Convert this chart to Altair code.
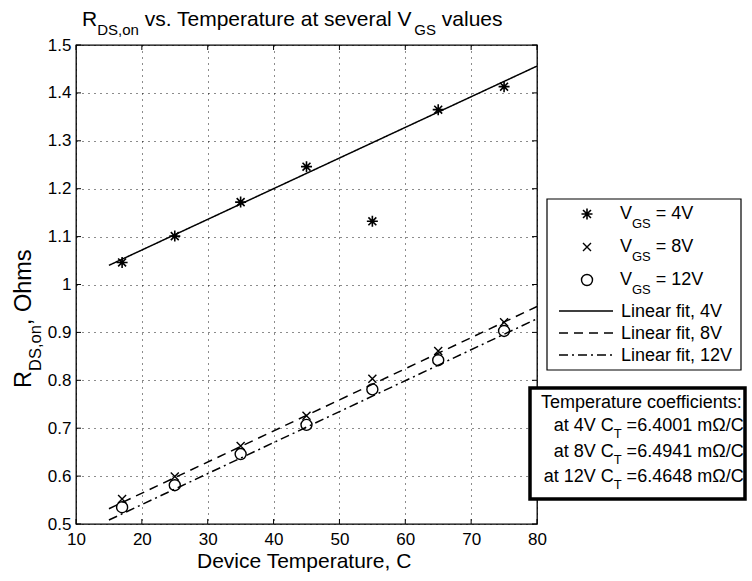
import altair as alt
import pandas as pd

# ---- measured data -------------------------------------------------------
temps = [17, 25, 35, 45, 55, 65, 75]              # device temperature, C
r_4v = [1.046, 1.101, 1.172, 1.246, 1.132, 1.365, 1.413]
r_8v = [0.552, 0.599, 0.663, 0.726, 0.803, 0.861, 0.921]
r_12v = [0.535, 0.581, 0.646, 0.707, 0.781, 0.842, 0.903]

# linear fits R = a + b*T (b in Ohm/C)
fit_names = ["4V", "8V", "12V"]
fit_slopes = [0.0064001, 0.0064941, 0.0064648]
fit_intercepts = [0.944, 0.4345, 0.4113]
fit_span = [15, 80]
coef_labels = ["6.4001", "6.4941", "6.4648"]

x_ticks = [10, 20, 30, 40, 50, 60, 70, 80]
y_ticks = [0.5, 0.6, 0.7, 0.8, 0.9, 1.0, 1.1, 1.2, 1.3, 1.4, 1.5]

# ---- layout ---------------------------------------------------------------
FONT = "Liberation Sans"
W, H = 461, 479          # plot area
OX, OY = 76, 45          # plot origin on the page
PAGE_W, PAGE_H = 752, 581

# Arial / Liberation Sans advance widths (per 1000 em)
ADV = {" ": 278, ".": 278, ",": 278, ":": 278, "=": 584, "/": 278,
       "a": 556, "c": 500, "e": 556, "f": 278, "h": 556, "i": 222, "l": 222,
       "m": 833, "n": 556, "o": 556, "p": 556, "r": 333, "s": 500, "t": 278,
       "u": 556, "v": 500, "C": 722, "D": 722, "G": 778, "L": 556, "O": 778,
       "R": 722, "S": 667, "T": 611, "V": 667, "\u03a9": 768}


def tw(s, size):
    return sum(ADV.get(c, 556) for c in s) / 1000.0 * size


def piece(txt, X, Y, size, angle=None):
    kw = dict(font=FONT, fontSize=size, align="left", baseline="alphabetic",
              color="black")
    if angle is not None:
        kw["angle"] = angle
    return alt.Chart(pd.DataFrame({"t": [txt]})).mark_text(**kw).encode(
        text="t:N", x=alt.value(X - OX), y=alt.value(Y - OY))


def hrun(pieces, X, Y, right=False):
    """Horizontal run of (text, size, baseline shift) pieces."""
    total = sum(tw(t, s) for t, s, _ in pieces)
    pos = X - total if right else X
    out = []
    for t, s, sh in pieces:
        lead = len(t) - len(t.lstrip(" "))
        start = pos + tw(" " * lead, s)
        if t.strip():
            out.append(piece(t.strip(), start, Y + sh, s))
        pos += tw(t, s)
    return out


def vrun(pieces, X, Y):
    """Run rotated to read bottom-to-top; X is the baseline, Y the start."""
    pos = Y
    out = []
    for t, s, sh in pieces:
        lead = len(t) - len(t.lstrip(" "))
        start = pos - tw(" " * lead, s)
        if t.strip():
            out.append(piece(t.strip(), X + sh, start, s, angle=270))
        pos -= tw(t, s)
    return out


# ---- data tables ----------------------------------------------------------
pts = pd.DataFrame({
    "T": temps * 3,
    "R": r_4v + r_8v + r_12v,
    "series": ["4V"] * 7 + ["8V"] * 7 + ["12V"] * 7,
})

fit_rows = []
for name, b, a in zip(fit_names, fit_slopes, fit_intercepts):
    for t in fit_span:
        fit_rows.append({"T": t, "R": a + b * t, "fit": name})
fits = pd.DataFrame(fit_rows)

xscale = alt.Scale(domain=[10, 80], nice=False, zero=False)
yscale = alt.Scale(domain=[0.5, 1.5], nice=False, zero=False)
grid_style = dict(grid=True, gridColor="black", gridDash=[1, 5], gridWidth=1,
                  gridOpacity=0.9, domain=False, ticks=False, title=None,
                  labelFont=FONT, labelFontSize=17, labelColor="black",
                  labelFlush=False, labelOverlap=False)
xaxis = alt.Axis(values=x_ticks, labelPadding=7, **grid_style)
yaxis = alt.Axis(values=y_ticks, labelPadding=5,
                 labelExpr="format(datum.value, '~g')", **grid_style)
X = alt.X("T:Q", scale=xscale, axis=xaxis)
Y = alt.Y("R:Q", scale=yscale, axis=yaxis)

STAR = "M0,-1L0,1M-1,0L1,0M-0.72,-0.72L0.72,0.72M-0.72,0.72L0.72,-0.72"
CROSS = "M-1,-1L1,1M-1,1L1,-1"
DASHES = {"4V": [1, 0], "8V": [9, 6], "12V": [9, 4, 2, 4]}

layers = []

# fitted lines
for name in fit_names:
    layers.append(
        alt.Chart(fits).transform_filter(alt.datum.fit == name)
        .mark_line(color="black", strokeWidth=1.5, strokeDash=DASHES[name])
        .encode(x=X, y=Y)
    )

# measured points
marker_style = {
    "4V": dict(shape=STAR, size=121, strokeWidth=1.6),
    "8V": dict(shape=CROSS, size=64, strokeWidth=1.4),
    "12V": dict(shape="circle", size=121, strokeWidth=1.4),
}
for name in fit_names:
    layers.append(
        alt.Chart(pts).transform_filter(alt.datum.series == name)
        .mark_point(filled=False, color="black", opacity=1,
                    **marker_style[name])
        .encode(x=X, y=Y)
    )

# inward tick marks on all four sides
xt = pd.DataFrame({"T": x_ticks})
yt = pd.DataFrame({"R": y_ticks})
tick_kw = dict(color="black", strokeWidth=1)
layers += [
    alt.Chart(xt).mark_rule(**tick_kw).encode(x=X, y=alt.value(H), y2=alt.value(H - 5)),
    alt.Chart(xt).mark_rule(**tick_kw).encode(x=X, y=alt.value(0), y2=alt.value(5)),
    alt.Chart(yt).mark_rule(**tick_kw).encode(y=Y, x=alt.value(0), x2=alt.value(5)),
    alt.Chart(yt).mark_rule(**tick_kw).encode(y=Y, x=alt.value(W), x2=alt.value(W - 5)),
]

# title, axis titles
layers += hrun([("R", 21, 0), ("DS,on", 15, 9),
                (" vs. Temperature at several V", 21, 0), ("GS", 15, 9),
                (" values", 21, 0)], 82, 26)
layers += hrun([("Device Temperature, C", 21, 0)], 197, 568)
layers += vrun([("R", 23.5, 0), ("DS,on", 16.5, 9.5), (", Ohms", 23.5, 0)], 31, 388)

# legend box
LX0, LX1, LY0, LY1 = 547, 741, 199, 370
layers.append(
    alt.Chart(pd.DataFrame({"k": [0]})).mark_rect(
        fill="white", stroke="black", strokeWidth=1.2)
    .encode(x=alt.value(LX0 - OX), x2=alt.value(LX1 - OX),
            y=alt.value(LY0 - OY), y2=alt.value(LY1 - OY))
)
for i, name in enumerate(fit_names):
    base = 219 + 33 * i
    layers.append(
        alt.Chart(pd.DataFrame({"k": [0]}))
        .mark_point(filled=False, color="black", opacity=1, **marker_style[name])
        .encode(x=alt.value(587 - OX), y=alt.value(base - 5 - OY))
    )
    layers += hrun([("V", 18, 0), ("GS", 13, 9), (" = " + name, 18, 0)], 620, base)
for i, name in enumerate(fit_names):
    ly = 311 + 22 * i
    layers.append(
        alt.Chart(pd.DataFrame({"k": [0]}))
        .mark_rule(color="black", strokeWidth=1.3, strokeDash=DASHES[name])
        .encode(x=alt.value(559 - OX), x2=alt.value(613 - OX), y=alt.value(ly - OY))
    )
    layers += hrun([("Linear fit, " + name, 18, 0)], 621, ly + 6)

# temperature-coefficient box
BX0, BX1, BY0, BY1 = 530, 745, 388, 499
layers.append(
    alt.Chart(pd.DataFrame({"k": [0]})).mark_rect(
        fill="white", stroke="black", strokeWidth=3.5)
    .encode(x=alt.value(BX0 - OX), x2=alt.value(BX1 - OX),
            y=alt.value(BY0 - OY), y2=alt.value(BY1 - OY))
)
layers += hrun([("Temperature coefficients:", 18, 0)], 744, 408, right=True)
for i, (name, c) in enumerate(zip(fit_names, coef_labels)):
    base = 431 + 25.5 * i
    layers += hrun([("at " + name + " C", 18, 0), ("T", 13, 7),
                    (" =" + c + " m\u03a9/C", 18, 0)], 744, base, right=True)

chart = alt.layer(*layers).properties(
    width=W, height=H,
    autosize=alt.AutoSizeParams(type="none"),
    padding={"left": OX, "top": OY, "right": PAGE_W - OX - W,
             "bottom": PAGE_H - OY - H},
    background="white",
).configure_view(stroke="black", strokeWidth=1.3)

chart.save("out.html", embed_options={"renderer": "svg", "actions": False})
